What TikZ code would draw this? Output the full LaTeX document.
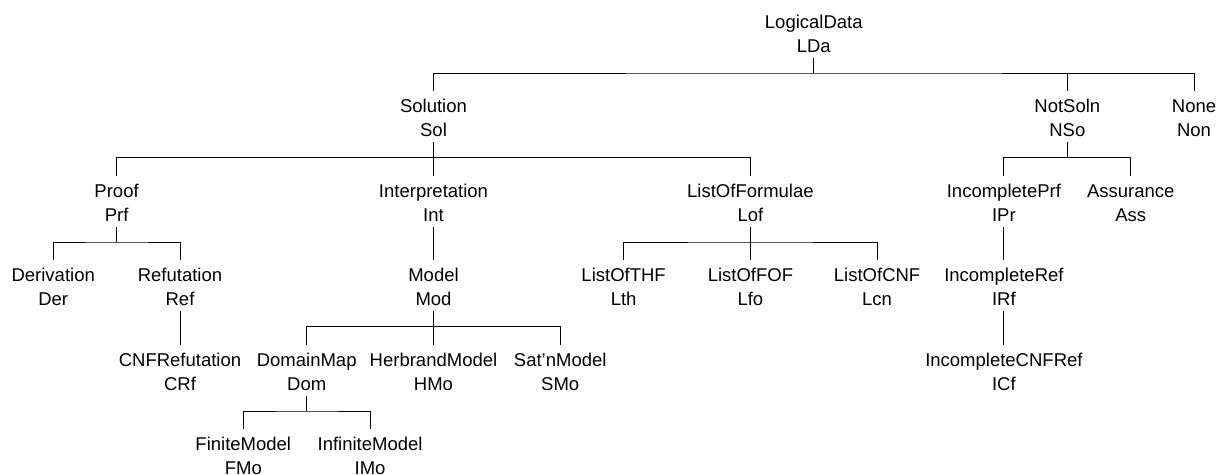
\documentclass[tikz,border=0pt]{standalone}
\usepackage{fontspec}
\setmainfont{Liberation Sans}
\newcommand\twoline[2]{\begin{tabular}{@{}c@{}}#1\\#2\end{tabular}}
\tikzset{
  lbl/.style={inner sep=0pt, outer sep=0pt, font=\fontsize{18.5}{24}\selectfont},
  link/.style={line width=1pt, black}
}
% parent, leftmost child, rightmost child
\newcommand\family[3]{%
  \coordinate (#1bar) at ([yshift=-13.8pt]#1.south);
  \draw[link] ([yshift=1.7pt]#1.south) -- (#1bar);
  \draw[link] ([yshift=4.7pt]#2.north) |- (#1bar) -| ([yshift=4.7pt]#3.north);}
% parent, middle child
\newcommand\middrop[2]{\draw[link] ([yshift=4.7pt]#2.north) -- (#2 |- #1bar);}
% parent, only child
\newcommand\onlychild[2]{\draw[link] ([yshift=1.7pt]#1.south) -- ([yshift=4.7pt]#2.north);}
\begin{document}
\begin{tikzpicture}[x=1pt,y=-1pt]
\useasboundingbox (0,0) rectangle (1217,474);
% row 0
\node[lbl] (LDa) at (813.8,35.2) {\twoline{LogicalData}{LDa}};
% row 1
\node[lbl] (Sol) at (433.5,119.7) {\twoline{Solution}{Sol}};
\node[lbl] (NSo) at (1067.3,119.7) {\twoline{NotSoln}{NSo}};
\node[lbl] (Non) at (1194.0,119.7) {\twoline{None}{Non}};
% row 2
\node[lbl] (Prf) at (116.6,204.2) {\twoline{Proof}{Prf}};
\node[lbl] (Int) at (433.5,204.2) {\twoline{Interpretation}{Int}};
\node[lbl] (Lof) at (750.4,204.2) {\twoline{ListOfFormulae}{Lof}};
\node[lbl] (IPr) at (1003.9,204.2) {\twoline{IncompletePrf}{IPr}};
\node[lbl] (Ass) at (1130.7,204.2) {\twoline{Assurance}{Ass}};
% row 3
\node[lbl] (Der) at (53.2,288.7) {\twoline{Derivation}{Der}};
\node[lbl] (Ref) at (180.0,288.7) {\twoline{Refutation}{Ref}};
\node[lbl] (Mod) at (433.5,288.7) {\twoline{Model}{Mod}};
\node[lbl] (Lth) at (623.6,288.7) {\twoline{ListOfTHF}{Lth}};
\node[lbl] (Lfo) at (750.4,288.7) {\twoline{ListOfFOF}{Lfo}};
\node[lbl] (Lcn) at (877.1,288.7) {\twoline{ListOfCNF}{Lcn}};
\node[lbl] (IRf) at (1003.9,288.7) {\twoline{IncompleteRef}{IRf}};
% row 4
\node[lbl] (CRf) at (180.0,373.2) {\twoline{CNFRefutation}{CRf}};
\node[lbl] (Dom) at (306.7,373.2) {\twoline{DomainMap}{Dom}};
\node[lbl] (HMo) at (433.5,373.2) {\twoline{HerbrandModel}{HMo}};
\node[lbl] (SMo) at (560.2,373.2) {\twoline{Sat'nModel}{SMo}};
\node[lbl] (ICf) at (1003.9,373.2) {\twoline{IncompleteCNFRef}{ICf}};
% row 5
\node[lbl] (FMo) at (243.3,457.7) {\twoline{FiniteModel}{FMo}};
\node[lbl] (IMo) at (370.1,457.7) {\twoline{InfiniteModel}{IMo}};
% connectors
\family{LDa}{Sol}{Non}\middrop{LDa}{NSo}
\family{Sol}{Prf}{Lof}\middrop{Sol}{Int}
\family{NSo}{IPr}{Ass}
\family{Prf}{Der}{Ref}
\onlychild{Int}{Mod}
\family{Lof}{Lth}{Lcn}\middrop{Lof}{Lfo}
\onlychild{IPr}{IRf}
\onlychild{Ref}{CRf}
\family{Mod}{Dom}{SMo}\middrop{Mod}{HMo}
\onlychild{IRf}{ICf}
\family{Dom}{FMo}{IMo}
\end{tikzpicture}
\end{document}
